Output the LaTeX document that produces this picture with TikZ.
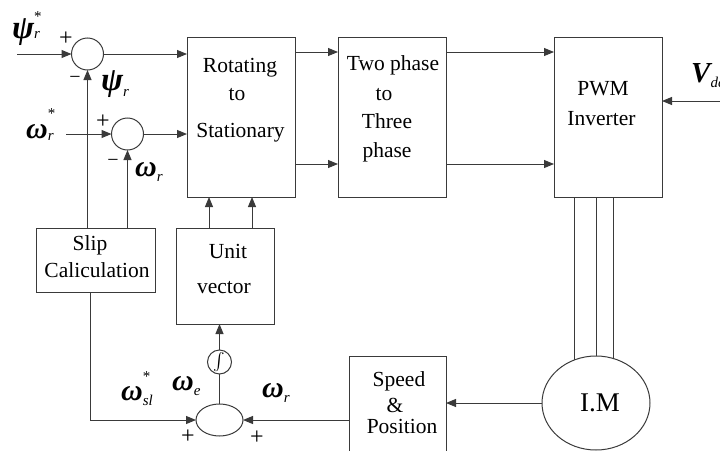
\documentclass[tikz,border=0pt]{standalone}
\usepackage{amsmath}
\usepackage{fontspec}
\setmainfont{Liberation Serif}
\usetikzlibrary{arrows.meta,shapes.geometric}
\definecolor{lc}{HTML}{3A3A3A}
% #1 size, #2 letter, #3 sub, #4 sub raise, #5 sup, #6 sup raise
\newcommand{\glab}[6]{{\fontsize{#1}{#1}\selectfont\bfseries\itshape #2}\rlap{\raisebox{#4}{\fontsize{15}{15}\selectfont\itshape #3}}\raisebox{#6}{\fontsize{15}{15}\selectfont #5}}
\begin{document}
\begin{tikzpicture}[x=1pt,y=-1pt,
  ln/.style={draw=lc, line width=1pt},
  arr/.style={ln, -{Triangle[length=10pt,width=8pt]}},
  blk/.style={draw=lc, line width=1pt, inner sep=0pt, outer sep=0pt},
  btxt/.style={font=\fontsize{21.5}{21.5}\selectfont, anchor=base, inner sep=0pt},
  sgn/.style={font=\fontsize{24}{24}\selectfont, inner sep=0pt},
  lab/.style={anchor=base west, inner sep=0pt}]
\useasboundingbox (0,0) rectangle (720,450);

% blocks
\node[blk, minimum width=108pt, minimum height=160pt] (rot) at (241,117) {};
\node[blk, minimum width=108pt, minimum height=160pt] (two) at (392,117) {};
\node[blk, minimum width=108pt, minimum height=160pt] (pwm) at (608,117) {};
\node[blk, minimum width=119pt, minimum height=64pt] (slip) at (95.5,260) {};
\node[blk, minimum width=98pt, minimum height=96pt] (unit) at (225,276) {};
\node[blk, minimum width=97pt, minimum height=114pt] (spd) at (397.5,413) {};
\node[blk, ellipse, minimum width=108pt, minimum height=94pt] (im) at (596,403) {};
\node[blk, circle, minimum size=32pt] (c1) at (87.5,54) {};
\node[blk, circle, minimum size=32pt] (c2) at (127.5,134) {};
\node[blk, circle, minimum size=24pt, font=\fontsize{16}{16}\selectfont] (integ) at (219.5,362) {$\int$};
\node[blk, ellipse, minimum width=47pt, minimum height=32pt] (bsum) at (219.5,420) {};

% block texts
\node[btxt] (t1) at (240,72) {Rotating};
\node[btxt] (t2) at (237,100) {to};
\node[btxt] (t3) at (240.5,137) {Stationary};
\node[btxt] (t4) at (393,70) {Two phase};
\node[btxt] (t5) at (384,100) {to};
\node[btxt] (t6) at (387,128) {Three};
\node[btxt] (t7) at (387,157) {phase};
\node[btxt] (t8) at (603,95) {PWM};
\node[btxt] (t9) at (601.5,125) {Inverter};
\node[btxt] (t10) at (90,250) {Slip};
\node[btxt] (t11) at (97,277) {Caliculation};
\node[btxt] (t12) at (228,258) {Unit};
\node[btxt] (t13) at (224,293) {vector};
\node[btxt] (t14) at (399,386) {Speed};
\node[btxt] (t15) at (395,412) {\&};
\node[btxt] (t16) at (402,433) {Position};
\node[btxt, font=\fontsize{27}{27}\selectfont] (t17) at (600,411) {I.M};

% signal labels
\node[lab] (lpsis) at (12,38) {\glab{33}{ψ}{r}{0pt}{*}{17pt}};
\node[lab] (lpsi) at (101,90) {\glab{33}{ψ}{r}{-6pt}{}{0pt}};
\node[lab] (lwrs) at (26,138) {\glab{30}{ω}{r}{-2pt}{*}{20pt}};
\node[lab] (lwr) at (135,176) {\glab{30}{ω}{r}{-5pt}{}{0pt}};
\node[lab] (lwsl) at (121,400) {\glab{30}{ω}{sl}{-5pt}{*}{19pt}};
\node[lab] (lwe) at (172,390) {\glab{30}{ω}{e}{-5pt}{}{0pt}};
\node[lab] (lwr2) at (262,397) {\glab{30}{ω}{r}{-5pt}{}{0pt}};
\node[lab] (lvdc) at (691,82) {{\fontsize{29}{29}\selectfont\bfseries\itshape V}\raisebox{-5pt}{\fontsize{15}{15}\selectfont\itshape dc}};

% signs
\node[sgn] (p1) at (66,39) {+};
\node[sgn, font=\fontsize{20}{20}\selectfont] (m1) at (75,80) {−};
\node[sgn] (p2) at (103,122) {+};
\node[sgn, font=\fontsize{20}{20}\selectfont] (m2) at (113,163) {−};
\node[sgn] (p3) at (188,437) {+};
\node[sgn] (p4) at (257,438) {+};

% coordinates
\coordinate (psiin) at (17,54);
\coordinate (omin) at (66,134);
\coordinate (vin) at (720,101);
\coordinate (ya) at (0,52);
\coordinate (yb) at (0,164);
\coordinate (xa) at (209,0);
\coordinate (xb) at (252,0);
\coordinate (xs) at (90,0);

% connectors
\draw[arr] (psiin) -- (c1.west);
\draw[arr] (c1.east) -- (c1.east -| rot.west);
\draw[arr] (omin) -- (c2.west);
\draw[arr] (c2.east) -- (c2.east -| rot.west);
\draw[arr] (rot.east |- ya) -- (two.west |- ya);
\draw[arr] (rot.east |- yb) -- (two.west |- yb);
\draw[arr] (two.east |- ya) -- (pwm.west |- ya);
\draw[arr] (two.east |- yb) -- (pwm.west |- yb);
\draw[arr] (vin) -- (vin -| pwm.east);
\draw[arr] (slip.north -| c1.south) -- (c1.south);
\draw[arr] (slip.north -| c2.south) -- (c2.south);
\draw[arr] (unit.north -| xa) -- (rot.south -| xa);
\draw[arr] (unit.north -| xb) -- (rot.south -| xb);
\draw[arr] (integ.north) -- (integ.north |- unit.south);
\draw[ln] (bsum.north) -- (integ.south);
\draw[arr] (slip.south -| xs) |- (bsum.west);
\draw[arr] (spd.west |- bsum.east) -- (bsum.east);
\draw[arr] (im.west) -- (im.west -| spd.east);
\draw[ln] (im.117) -- (im.117 |- pwm.south);
\draw[ln] (im.north) -- (im.north |- pwm.south);
\draw[ln] (im.69) -- (im.69 |- pwm.south);
\end{tikzpicture}
\end{document}
